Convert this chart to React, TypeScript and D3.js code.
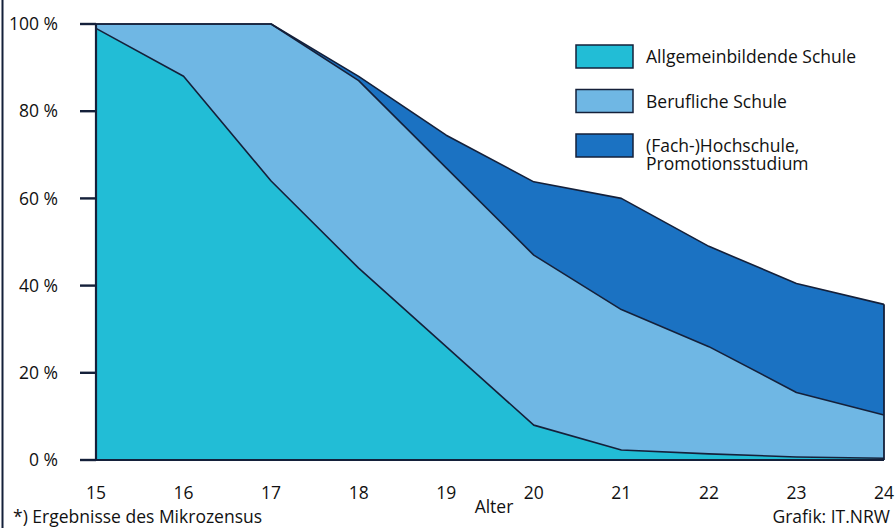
import React from "react";
import * as d3 from "d3";

const ages = [15, 16, 17, 18, 19, 20, 21, 22, 23, 24];
const allgemein = [99, 88, 64, 44, 26, 8, 2.3, 1.4, 0.7, 0.4];
const beruflich = [1, 12, 36, 43, 41, 39, 32.2, 24.6, 14.8, 9.9];
const hochschule = [0, 0, 0, 1, 7.5, 16.8, 25.5, 23, 25, 25.4];
const yTicks = [0, 20, 40, 60, 80, 100];
const seriesKeys = ["allgemein", "beruflich", "hochschule"];
const legendLabels = [["Allgemeinbildende Schule"], ["Berufliche Schule"], ["(Fach-)Hochschule,", "Promotionsstudium"]];
const colors = ["#22bdd6", "#6fb7e4", "#1b72c2"];

const W = 896, H = 528;
const FONT = "'Open Sans', 'Noto Sans', sans-serif";
const INK = "#14203a";

export default function App() {
  const x = d3.scaleLinear().domain([15, 24]).range([96, 884]);
  const y = d3.scaleLinear().domain([0, 100]).range([460, 24]);
  const rows = ages.map((a, i) => ({ age: a, allgemein: allgemein[i], beruflich: beruflich[i], hochschule: hochschule[i] }));
  const stack = d3.stack<any>().keys(seriesKeys)(rows);
  const area = d3.area<any>().x((d: any) => x(d.data.age)).y0((d: any) => y(d[0])).y1((d: any) => y(d[1])).curve(d3.curveLinear);
  const topLine = d3.line<any>().x((d: any) => x(d.data.age)).y((d: any) => y(d[1])).curve(d3.curveLinear);

  return (
    <svg width={W} height={H} style={{ position: "absolute", left: 0, top: 0, background: "#fff" }} fontFamily={FONT}>
      <rect x={0} y={0} width={W} height={H} fill="#fff" />
      <line x1={2.5} x2={2.5} y1={0} y2={H} stroke={INK} strokeWidth={2} />
      {stack.map((s, i) => (
        <path key={"a" + i} d={area(s) || ""} fill={colors[i]} />
      ))}
      {stack.map((s, i) => (
        <path key={"l" + i} d={topLine(s) || ""} fill="none" stroke={INK} strokeWidth={1.6} strokeLinejoin="round" />
      ))}
      <line x1={x(15)} x2={x(15)} y1={y(100)} y2={y(0)} stroke={INK} strokeWidth={2.2} />
      <line x1={x(15)} x2={x(24)} y1={y(0)} y2={y(0)} stroke={INK} strokeWidth={1.8} />
      <line x1={x(24)} x2={x(24)} y1={y(stack[2][stack[2].length - 1][1])} y2={y(0)} stroke={INK} strokeWidth={1.8} />
      {yTicks.map((t) => (
        <g key={t}>
          <line x1={80} x2={x(15)} y1={y(t)} y2={y(t)} stroke={INK} strokeWidth={2.4} />
          <text x={58} y={y(t)} dy="0.35em" textAnchor="end" fontSize={17.5} fill="#111">{t}{"\u00a0"}%</text>
        </g>
      ))}
      {ages.map((a) => (
        <text key={a} x={x(a)} y={499} textAnchor="middle" fontSize={17.5} fill="#111">{a}</text>
      ))}
      <text x={494} y={513} textAnchor="middle" fontSize={17.5} fill="#111">Alter</text>
      <text x={13} y={523} fontSize={17.5} fill="#111">*) Ergebnisse des Mikrozensus</text>
      <text x={890} y={523} textAnchor="end" fontSize={17.5} fill="#111">Grafik: IT.NRW</text>
      {legendLabels.map((lines, i) => {
        const by = 45 + i * 44.5;
        return (
          <g key={i}>
            <rect x={576} y={by} width={57} height={23} fill={colors[i]} stroke={INK} strokeWidth={1.5} />
            {lines.map((ln, j) => (
              <text key={j} x={646} y={by + 18 + j * 18} fontSize={17.5} fill="#111">{ln}</text>
            ))}
          </g>
        );
      })}
    </svg>
  );
}
